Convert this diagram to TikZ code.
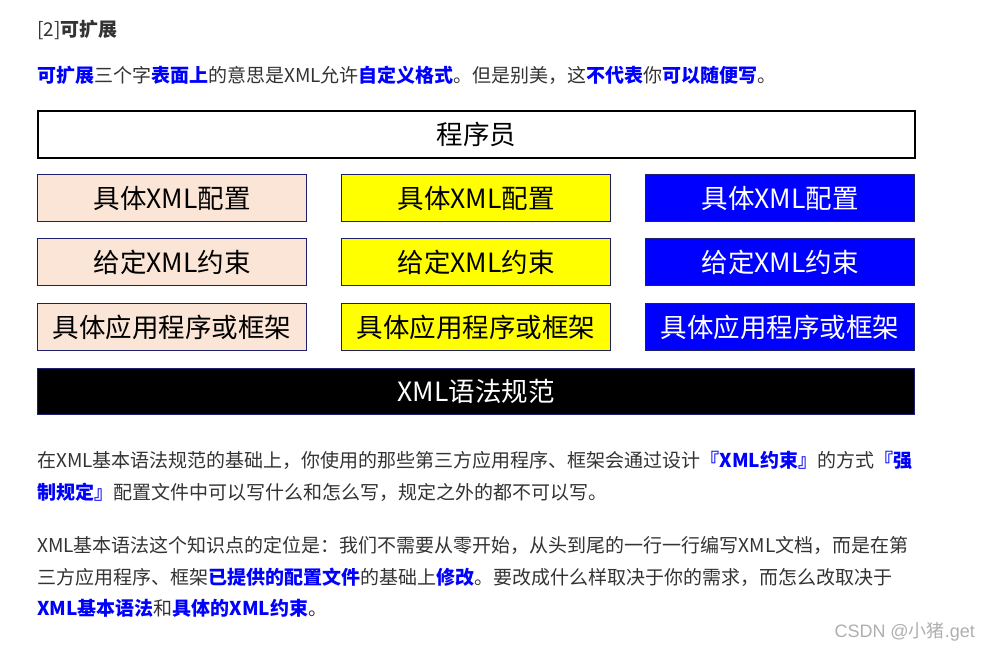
\documentclass[tikz,border=0pt]{standalone}
\usepackage{fontspec}
\setmainfont{Noto Sans CJK SC}
\newfontfamily\cjkfont{Noto Sans CJK SC}
\newfontfamily\wmfont{Liberation Sans}
\definecolor{bodytext}{RGB}{51,51,51}
\definecolor{hiblue}{RGB}{0,0,255}
\definecolor{peach}{RGB}{251,229,214}
\definecolor{yel}{RGB}{255,255,0}
\definecolor{navy}{RGB}{31,31,112}
\definecolor{wm}{RGB}{175,175,175}
\newcommand{\hb}[1]{\textcolor{hiblue}{\bfseries #1}}
\begin{document}
\begin{tikzpicture}[x=1pt,y=-1pt,
  line/.style={anchor=west,inner sep=0pt,text=bodytext,font=\fontsize{19.0}{22}\selectfont},
  cell/.style={draw=navy,line width=1.3pt,minimum width=269pt,minimum height=47pt,inner sep=0pt,anchor=north west,font=\fontsize{26.5}{30}\selectfont},
  c1/.style={cell,fill=peach,text=black},
  c2/.style={cell,fill=yel,text=black},
  c3/.style={cell,fill=hiblue,text=white}]
\useasboundingbox (0,0) rectangle (992,652);
\fill[white] (0,0) rectangle (992,652);
% heading and first paragraph
\node[line] (h) at (37,30) {[2]\textbf{可扩展}};
\node[line] (p1) at (37,75) {\hb{可扩展}三个字\hb{表面上}的意思是XML允许\hb{自定义格式}。但是别美，这\hb{不代表}你\hb{可以随便写}。};
% diagram
\node[draw=black,line width=1.8pt,fill=white,minimum width=877pt,minimum height=47pt,inner sep=0pt,anchor=north west,font=\fontsize{26.5}{30}\selectfont] (prog) at (37,110) {程序员};
\node[c1] (a1) at (37,174) {具体XML配置};
\node[c2] (b1) at (341,174) {具体XML配置};
\node[c3] (d1) at (645,174) {具体XML配置};
\node[c1] (a2) at (37,238) {给定XML约束};
\node[c2] (b2) at (341,238) {给定XML约束};
\node[c3] (d2) at (645,238) {给定XML约束};
\node[c1] (a3) at (37,303) {具体应用程序或框架};
\node[c2] (b3) at (341,303) {具体应用程序或框架};
\node[c3] (d3) at (645,303) {具体应用程序或框架};
\node[draw=navy,line width=1.3pt,fill=black,text=white,minimum width=877pt,minimum height=46pt,inner sep=0pt,anchor=north west,font=\fontsize{26.5}{30}\selectfont] (spec) at (37,368) {XML语法规范};
% paragraph 2
\node[line] (p2a) at (37,460) {在XML基本语法规范的基础上，你使用的那些第三方应用程序、框架会通过设计\hb{『XML约束』}的方式\hb{『强}};
\node[line] (p2b) at (37,492) {\hb{制规定』}配置文件中可以写什么和怎么写，规定之外的都不可以写。};
% paragraph 3
\node[line] (p3a) at (37,545) {XML基本语法这个知识点的定位是：我们不需要从零开始，从头到尾的一行一行编写XML文档，而是在第};
\node[line] (p3b) at (37,577) {三方应用程序、框架\hb{已提供的配置文件}的基础上\hb{修改}。要改成什么样取决于你的需求，而怎么改取决于};
\node[line] (p3c) at (37,608) {\hb{XML基本语法}和\hb{具体的XML约束}。};
% watermark
\node[anchor=east,inner sep=0pt,text=wm,font=\fontsize{18}{20}\selectfont] (wmk) at (975,632) {{\wmfont CSDN @}小猪{\wmfont .get}};
\end{tikzpicture}
\end{document}
